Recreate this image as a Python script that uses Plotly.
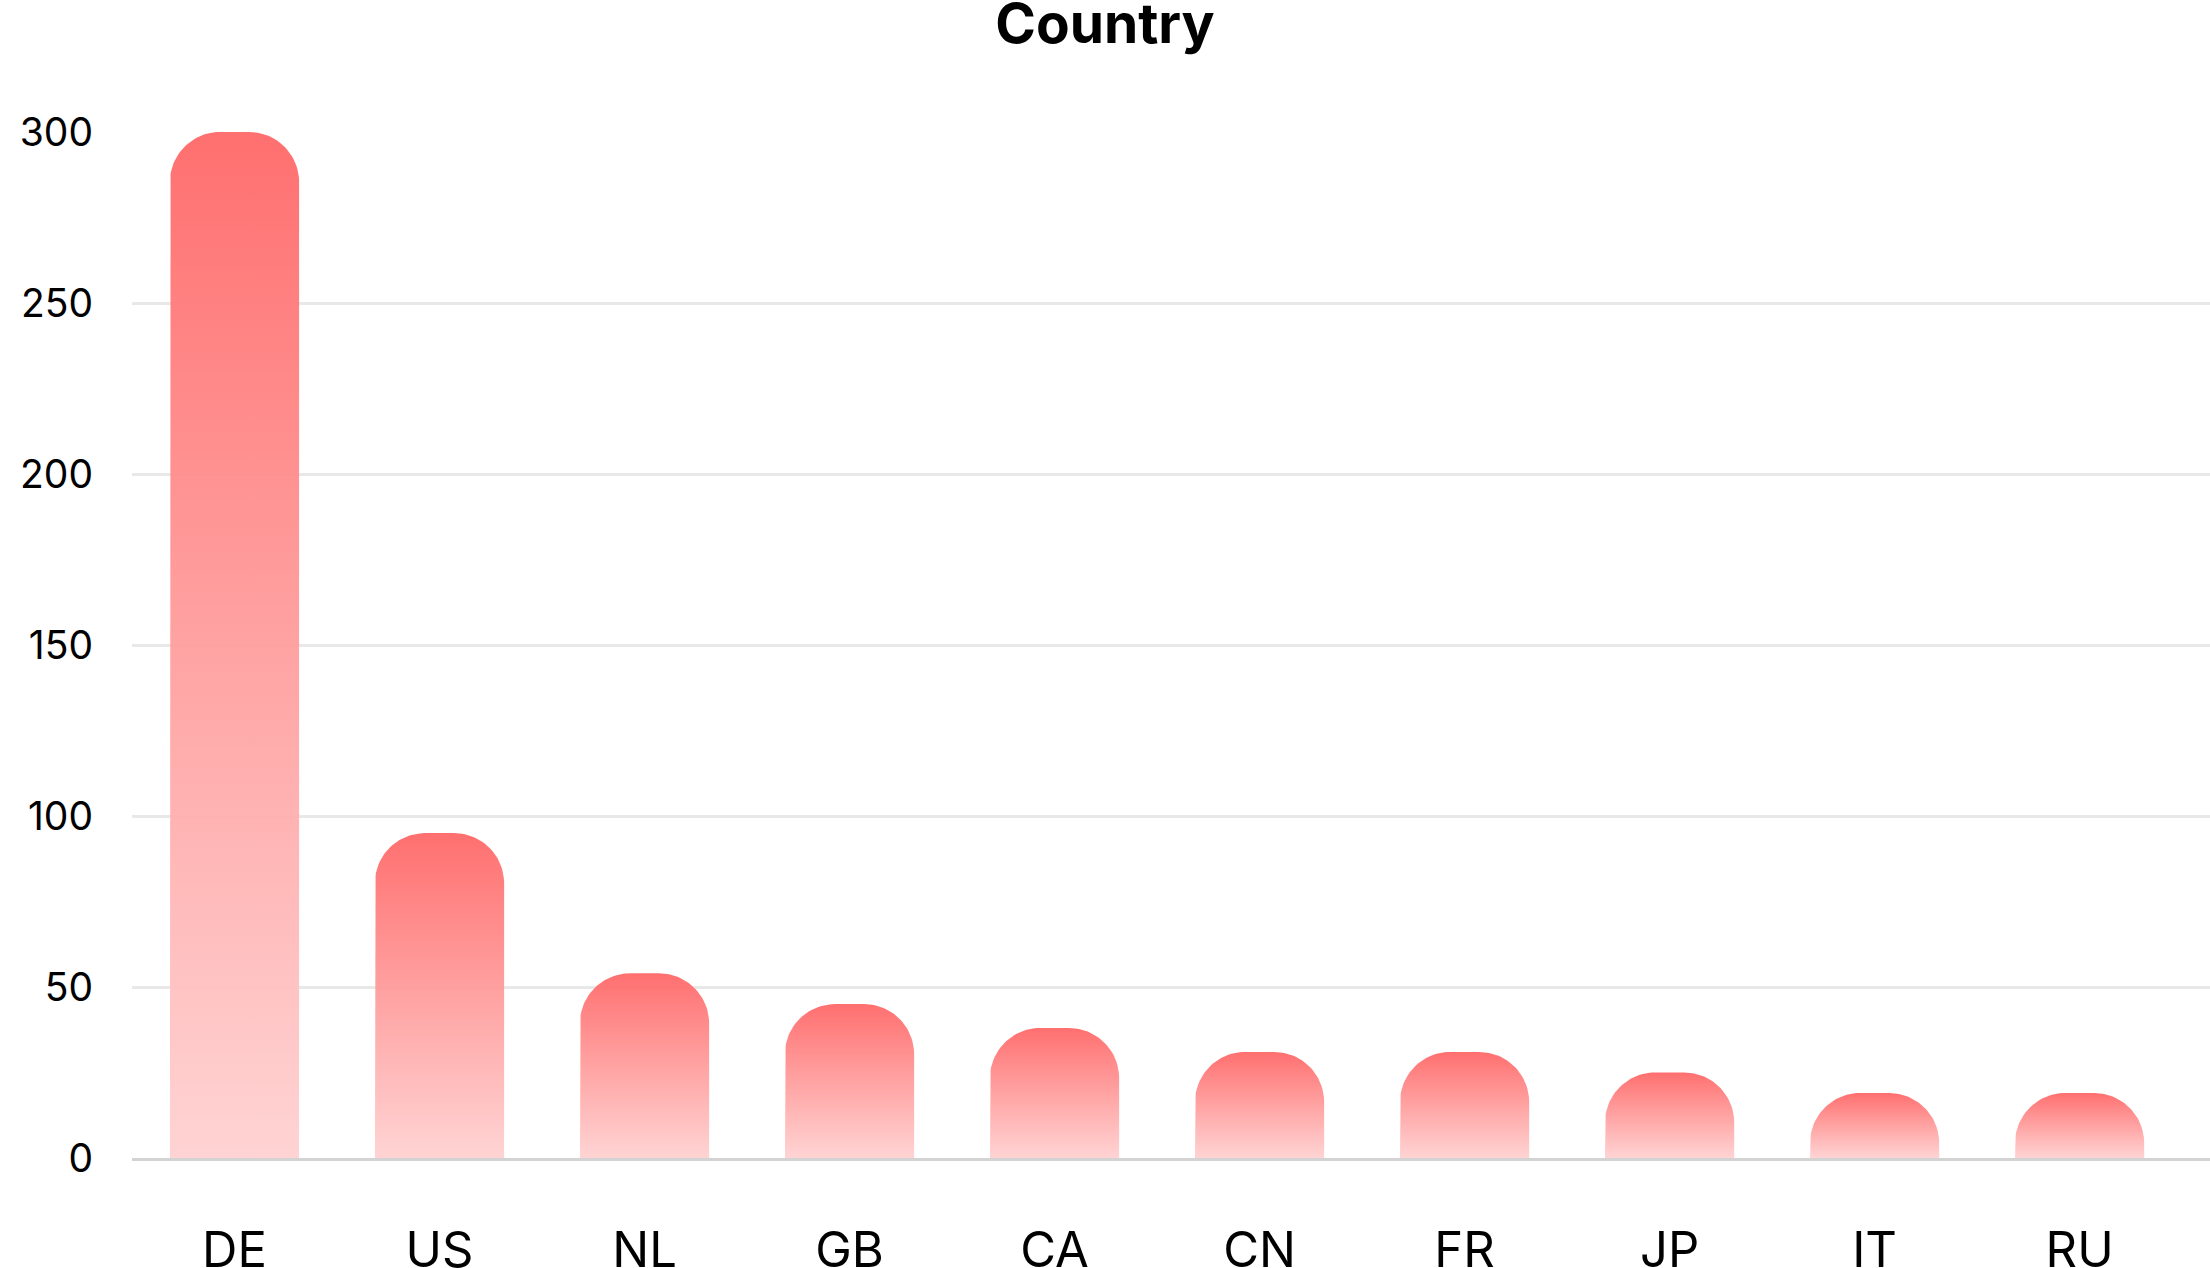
import numpy as np
import plotly.graph_objects as go

# ---- data ----
countries = ["DE", "US", "NL", "GB", "CA", "CN", "FR", "JP", "IT", "RU"]
counts = [300, 95, 54, 45, 38, 31, 31, 25, 19, 19]
y_ticks = [0, 50, 100, 150, 200, 250, 300]

# ---- layout geometry (pixels) ----
W, H = 2210, 1268
M_L, M_R, M_T, M_B = 132, 0, 132, 110
X_RANGE = [-0.5, 9.636]
Y_RANGE = [0, 300]
BAR_FRAC = 0.63
RADIUS_PX = 50

plot_w = W - M_L - M_R
plot_h = H - M_T - M_B
px_per_x = plot_w / (X_RANGE[1] - X_RANGE[0])
px_per_y = plot_h / (Y_RANGE[1] - Y_RANGE[0])
rx = RADIUS_PX / px_per_x
hw = BAR_FRAC / 2

fig = go.Figure()
theta = np.linspace(0, np.pi / 2, 30)
for i, (c, v) in enumerate(zip(countries, counts)):
    ry = min(RADIUS_PX / px_per_y, v)
    left, right = i - hw, i + hw
    lx = left + rx - rx * np.cos(theta)
    ly = v - ry + ry * np.sin(theta)
    rxs = right - rx + rx * np.sin(theta)
    rys = v - ry + ry * np.cos(theta)
    xs = np.concatenate([[left], lx, rxs, [right, left]])
    ys = np.concatenate([[0], ly, rys, [0, 0]])
    fig.add_trace(go.Scatter(
        x=xs, y=ys, mode="lines", fill="toself",
        line=dict(width=0, color="rgba(0,0,0,0)"),
        fillgradient=dict(type="vertical",
                          colorscale=[[0, "rgba(255,208,208,0.93)"],
                                      [1, "rgba(255,107,107,0.97)"]]),
        name=c, showlegend=False, hoverinfo="skip",
    ))

fig.update_layout(
    width=W, height=H,
    margin=dict(l=M_L, r=M_R, t=M_T, b=M_B, autoexpand=False),
    paper_bgcolor="white", plot_bgcolor="white",
    font=dict(family="Inter, Roboto, sans-serif", color="#000000"),
    title=dict(text="<b>Country</b>", x=0.5, xanchor="center",
               yref="container", y=1 - 24 / H, yanchor="middle",
               font=dict(size=55, family="Inter, sans-serif", color="#000000")),
    xaxis=dict(range=X_RANGE, tickmode="array", tickvals=list(range(len(countries))),
               ticktext=countries, showgrid=False, zeroline=False, automargin=False,
               showline=True, linecolor="#d3d3d3", linewidth=3,
               ticks="", ticklabelstandoff=47, tickfont=dict(size=49)),
    yaxis=dict(range=Y_RANGE, tickmode="array", tickvals=y_ticks, automargin=False,
               showgrid=True, gridcolor="#e8e8e8", gridwidth=3, zeroline=False,
               showline=False, ticks="", ticklabelstandoff=38, tickfont=dict(size=39)),
)

fig.write_html("out.html",
               config={"displayModeBar": False},
               post_script="document.body.style.margin='0';document.body.style.overflow='hidden';")
